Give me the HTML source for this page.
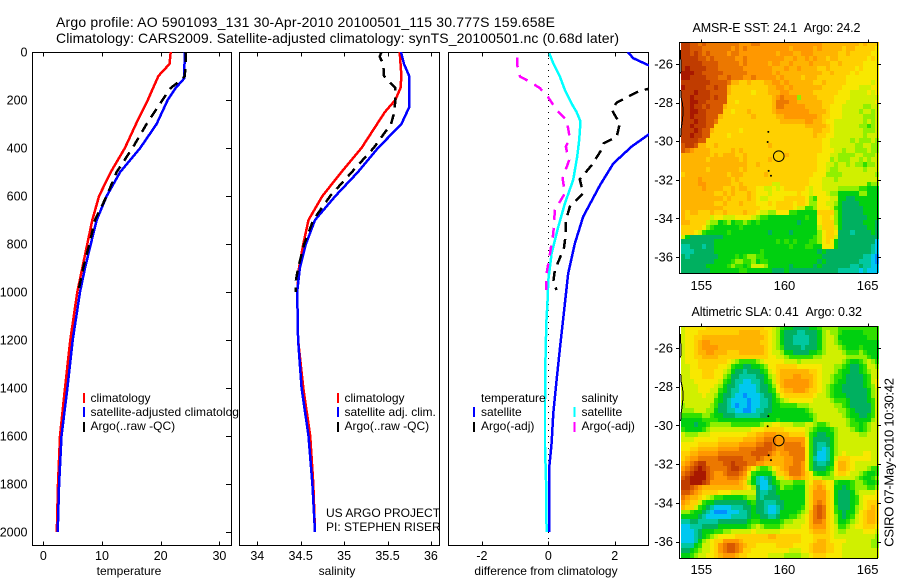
<!DOCTYPE html>
<html>
<head>
<meta charset="utf-8">
<title>Argo profile</title>
<style>
html,body{margin:0;padding:0;background:#fff;width:900px;height:580px;overflow:hidden}
svg{display:block}
text{font-family:"Liberation Sans",Arial,sans-serif;font-size:12px;fill:#000}
</style>
</head>
<body>
<svg id="chart" xmlns="http://www.w3.org/2000/svg" width="900" height="580" viewBox="0 0 900 580">
<defs>
<clipPath id="clip-temp"><rect x="32" y="52" width="200" height="494"/></clipPath>
<clipPath id="clip-sal"><rect x="239" y="52" width="201" height="494"/></clipPath>
<clipPath id="clip-diff"><rect x="448" y="52" width="201" height="494"/></clipPath>
</defs>
<text x="56" y="27" style="font-size:14px" textLength="499">Argo profile: AO 5901093_131 30-Apr-2010 20100501_115 30.777S 159.658E</text>
<text x="56" y="43" style="font-size:14px" textLength="563">Climatology: CARS2009. Satellite-adjusted climatology: synTS_20100501.nc (0.68d later)</text>
<g id="panels"></g>
<text x="692.5" y="32" style="font-size:12.5px" textLength="168">AMSR-E SST: 24.1&#160;&#160;Argo: 24.2</text>
<text x="691.5" y="316" style="font-size:12.5px" textLength="170.5">Altimetric SLA: 0.41&#160;&#160;Argo: 0.32</text>
<text transform="translate(893.5,546.7) rotate(-90)" style="font-size:13px" textLength="168.7">CSIRO 07-May-2010 10:30:42</text>
</svg>
<script>
const depthTicks = [0,200,400,600,800,1000,1200,1400,1600,1800,2000];
const tempTicks = [0,10,20,30];
const salTicks = [34,34.5,35,35.5,36];
const salTickLabels = ['34','34.5','35','35.5','36'];
const diffTicks = [-2,0,2];
const lonTicks = [155,160,165];
const latTicks = [-26,-28,-30,-32,-34,-36];

const tempClimDepth = [0,50,100,200,300,400,500,600,700,800,900,1000,1200,1400,1600,1800,2000];
const tempClim = [21.7,21.5,19.6,17.8,15.8,13.9,11.5,9.5,8.35,7.5,6.65,5.8,4.6,3.7,2.85,2.5,2.3];
const tempSatDepth = [0,100,110,150,200,300,400,500,600,700,800,900,1000,1200,1400,1600,1800,2000];
const tempSat = [24.1,24.0,24.0,22.55,21.2,19.3,16.5,13.1,10.8,9.1,8.1,7.1,6.25,5.0,4.1,3.1,2.7,2.45];
const tempArgoDepth = [0,20,100,120,150,200,300,400,500,600,700,800,900,1000];
const tempArgo = [24.2,24.3,24.1,23.3,21.7,20.3,17.6,15.2,12.5,10.8,8.8,7.85,6.8,5.95];

const salClimDepth = [0,100,150,200,250,300,400,500,600,700,800,900,1000,1200,1400,1600,1800,2000];
const salClim = [35.64,35.66,35.65,35.59,35.47,35.38,35.2,34.97,34.75,34.59,34.53,34.48,34.46,34.47,34.53,34.61,34.645,34.665];
const salSatDepth = [0,50,100,200,230,300,400,500,600,700,800,900,1000,1200,1400,1600,1800,2000];
const salSat = [35.655,35.69,35.75,35.75,35.75,35.66,35.39,35.16,34.9,34.665,34.56,34.49,34.46,34.47,34.51,34.59,34.635,34.665];
const salArgoDepth = [0,20,50,100,150,200,250,300,400,500,600,700,800,900,950,1000];
const salArgo = [35.43,35.41,35.45,35.46,35.59,35.59,35.58,35.54,35.34,35.09,34.84,34.645,34.54,34.47,34.446,34.44];

const diffTempSatDepth = [0,26,54,100,200,300,346,394,464,554,686,797,922,1047,1236,1367,1505,1630,1728,2000];
const diffTempSat = [2.39,2.56,3.0,4.4,3.6,3.5,3.0,2.51,1.96,1.56,1.05,0.8,0.6,0.5,0.35,0.25,0.15,0.1,0.03,0.03];
const diffTempArgoDepth = [100,154,161,186,211,239,272,294,353,381,408,471,531,589,644,700,756,818,908,957,992];
const diffTempArgo = [3.6,3.0,2.76,2.41,2.06,1.91,2.04,2.16,2.06,1.66,1.6,1.31,0.95,1.05,0.65,0.53,0.53,0.47,0.2,0.15,0.25];
const diffSalSatDepth = [6,47,103,158,214,249,290,367,436,533,631,728,839,950,1061,1103,1242,1450,1644,1783,2000];
const diffSalSat = [0.03,0.15,0.35,0.5,0.7,0.85,0.97,0.93,0.87,0.75,0.5,0.3,0.1,0,-0.03,-0.05,-0.08,-0.1,-0.1,-0.07,-0.05];
const diffSalArgoDepth = [22,58,103,124,151,189,242,283,360,394,422,450,526,589,658,756,839,922,992];
const diffSalArgo = [-0.93,-0.93,-0.85,-0.55,-0.25,0,0.25,0.55,0.65,0.53,0.57,0.63,0.43,0.5,0.2,0.15,0.05,-0.05,-0.07];

const coastSegmentALon = [153.76,153.76,153.78,153.76];
const coastSegmentALat = [-25.27,-25.7,-26.1,-26.48];
const coastSegmentBLon = [153.76,153.8,153.88,153.9,153.85,153.78,153.76];
const coastSegmentBLat = [-27.35,-27.8,-28.1,-28.6,-29.0,-29.4,-29.77];
const islandLon = [159.03,158.99,159.05,159.19];
const islandLat = [-29.52,-30.04,-31.54,-31.79];
const stationLon = [159.658];
const stationLat = [-30.777];

const sstGrid = [
[14,14,13,13,12,13,12,12,12,12,12,12,12,12,11,11,11,12,12,11,11,11,11,11,11,11,11,11,11,11,11,11,11,11,10,10,10,10,10,10,10,10,10,9,10,9,9,9],
[14,14,13,13,13,12,12,12,12,12,12,12,11,12,11,12,11,11,11,11,11,11,11,11,11,11,10,11,11,11,11,11,10,11,10,10,10,10,10,9,10,10,9,9,9,9,9,8],
[14,14,13,14,13,12,13,12,12,12,12,11,12,12,11,11,11,11,11,11,11,11,11,10,11,11,11,10,10,11,11,11,10,10,10,10,10,10,9,9,10,9,9,9,9,9,8,8],
[14,14,14,14,13,13,12,13,12,12,12,12,12,11,11,12,11,11,11,11,11,11,11,11,11,10,10,11,10,10,11,10,11,10,10,9,10,10,9,9,9,9,9,9,9,8,9,8],
[14,14,14,14,14,13,13,13,13,12,12,12,12,12,11,12,11,11,11,11,11,10,11,11,10,10,11,10,10,10,10,11,10,10,10,10,9,9,10,9,9,9,9,9,8,8,8,8],
[14,15,14,14,14,14,13,13,13,12,12,12,12,12,12,11,11,11,11,11,11,11,10,10,10,11,10,10,11,10,10,10,10,9,9,10,9,9,9,9,9,9,8,9,8,8,8,8],
[15,15,15,14,14,13,13,13,13,13,12,12,12,12,12,12,11,11,11,11,11,11,10,11,10,10,10,10,10,10,10,10,10,10,9,9,10,9,9,9,9,8,9,8,8,8,8,8],
[15,15,14,14,14,14,13,13,13,12,12,13,12,12,12,11,11,12,11,11,11,11,11,10,11,10,10,10,10,9,10,10,10,9,9,9,9,9,9,9,8,8,8,8,8,8,8,8],
[14,14,14,14,14,14,14,13,13,13,13,12,10,10,9,9,10,9,9,9,10,10,11,11,10,11,10,10,10,10,10,10,9,9,10,9,9,9,9,9,8,8,8,8,8,8,7,8],
[15,14,14,14,14,14,13,13,14,13,13,10,9,9,9,9,9,9,9,9,9,10,10,11,11,10,11,10,10,10,10,10,10,10,9,9,9,9,9,8,8,8,8,7,7,7,8,8],
[14,14,14,15,14,14,14,13,13,13,13,10,9,9,9,9,9,8,9,9,9,10,10,10,11,11,10,10,10,10,10,10,9,9,9,9,9,9,8,8,8,7,7,7,7,8,7,8],
[14,14,15,14,14,14,14,13,14,13,13,9,9,9,9,9,9,9,9,9,9,9,10,11,12,11,11,11,6,10,10,10,10,9,9,9,9,8,8,8,8,7,7,7,7,7,7,7],
[14,14,15,15,14,14,13,13,13,13,13,9,9,8,9,9,9,9,9,9,9,9,10,12,12,12,11,11,10,10,10,10,10,10,9,9,9,8,8,8,7,7,7,7,7,7,7,8],
[14,14,15,14,14,13,14,13,13,13,10,9,9,9,9,9,9,9,9,9,9,9,10,12,12,11,11,11,11,11,10,10,10,10,9,9,8,8,8,7,7,7,7,7,6,6,7,7],
[14,14,15,15,14,14,13,13,13,13,9,9,8,9,9,9,10,9,9,9,9,9,10,11,11,11,11,11,11,11,11,10,10,10,10,9,8,8,8,7,7,7,7,6,7,7,6,7],
[14,14,15,14,14,14,13,13,13,10,9,9,9,9,9,9,9,10,9,9,9,9,9,10,10,11,11,11,11,11,11,11,11,10,9,9,8,8,8,7,7,7,7,7,6,6,6,7],
[14,14,14,15,14,14,13,13,12,9,9,9,9,9,9,9,9,9,9,9,9,9,9,9,10,10,10,10,10,10,11,11,10,10,9,8,8,7,7,7,7,7,7,7,6,7,6,7],
[14,14,15,14,14,14,13,13,9,9,9,9,9,9,9,9,9,9,9,9,9,9,9,9,9,9,9,9,9,9,10,10,10,10,10,9,8,7,7,7,7,7,7,6,6,5,6,7],
[14,14,14,15,14,13,13,10,9,9,9,9,9,9,8,9,9,9,9,9,9,9,9,9,9,9,9,9,9,9,9,9,10,10,9,9,8,7,7,7,7,7,7,7,6,6,6,7],
[14,14,15,14,14,13,13,9,9,9,9,8,9,9,9,9,9,9,9,9,9,9,9,9,9,9,9,9,9,9,9,9,10,9,9,8,8,7,7,7,7,7,7,7,6,7,7,7],
[14,14,14,14,13,13,9,9,9,9,9,9,9,9,9,9,9,9,9,9,9,9,9,9,9,9,9,9,9,9,9,9,9,9,8,8,7,7,7,7,7,6,7,6,6,6,7,6],
[13,14,14,13,10,10,9,9,10,9,9,9,9,9,9,9,9,9,9,9,9,10,9,9,9,9,9,9,9,9,9,9,9,9,8,8,7,7,7,7,7,7,6,6,7,7,6,6],
[13,12,11,10,10,10,10,9,9,9,9,9,10,9,10,9,9,9,9,9,9,9,9,9,9,9,9,9,9,9,9,9,9,9,8,8,8,7,7,6,7,7,6,6,6,7,6,6],
[10,10,10,10,10,10,10,9,10,9,10,10,10,9,9,10,9,9,9,9,9,9,9,9,9,10,9,9,9,9,9,9,9,8,8,8,7,7,6,6,6,6,7,7,6,6,6,7],
[10,10,10,10,10,10,9,10,10,10,10,10,10,10,9,10,9,9,9,9,9,10,9,9,9,9,9,9,9,9,9,9,9,8,8,8,6,7,6,6,6,7,7,6,7,6,7,7],
[10,10,10,10,10,10,10,10,10,10,10,10,10,10,10,10,9,9,10,9,9,9,9,9,9,9,9,9,9,9,9,9,9,8,8,7,7,6,7,7,6,7,6,6,5,6,6,7],
[10,10,10,10,10,10,9,10,10,10,10,10,10,10,9,10,9,9,9,9,9,9,9,9,9,9,9,9,9,9,9,9,9,8,8,7,6,6,7,7,7,7,7,7,6,7,7,7],
[9,10,10,10,10,10,10,10,10,10,10,9,10,10,10,9,9,9,9,9,10,9,9,9,9,9,9,9,9,9,9,9,8,8,8,6,6,6,6,7,7,7,7,7,7,7,7,6],
[10,10,10,10,11,10,10,10,10,10,10,10,9,10,9,9,9,9,9,9,9,9,9,9,9,9,9,9,9,9,9,8,8,8,7,7,7,6,7,7,7,7,7,7,7,7,7,7],
[10,10,10,10,11,11,10,10,10,10,10,10,9,9,10,9,9,9,9,9,9,9,7,7,9,9,9,9,9,9,9,8,8,8,7,7,7,7,7,7,7,7,7,7,7,5,6,6],
[10,10,10,10,10,11,10,10,10,10,9,9,10,9,10,10,9,9,8,8,7,7,8,7,8,9,9,9,9,9,8,7,8,8,7,7,7,7,6,6,6,6,6,5,5,4,4,4],
[10,10,10,10,10,10,10,10,9,9,10,9,10,9,9,9,10,9,8,8,8,7,8,8,8,8,8,8,9,8,8,7,8,8,8,7,6,6,4,4,4,4,4,6,6,4,4,4],
[10,10,10,10,10,10,10,10,10,10,9,10,9,9,9,9,10,9,8,7,7,8,8,8,8,9,9,9,9,9,8,6,5,8,8,8,7,7,4,4,3,3,4,4,4,4,4,4],
[10,10,10,10,10,10,10,10,9,9,10,9,9,9,10,9,9,9,8,8,8,9,8,9,9,9,9,8,9,9,8,6,6,8,8,7,7,6,4,3,3,3,3,4,4,4,4,4],
[10,10,10,10,10,10,10,10,10,10,9,9,9,9,9,9,9,9,9,8,8,8,8,9,9,9,9,8,7,7,5,5,6,8,8,8,7,5,4,3,3,3,3,3,4,4,4,4],
[10,9,10,10,9,9,9,10,9,9,10,9,9,9,9,10,9,9,8,7,7,6,6,8,8,8,5,5,4,4,4,4,4,9,9,9,9,6,4,3,3,3,3,3,4,4,4,4],
[10,9,9,9,9,9,9,7,8,8,7,7,7,8,8,8,8,7,6,5,5,4,4,4,4,4,4,4,4,4,5,4,4,8,9,9,8,6,4,3,3,3,3,3,3,4,4,4],
[10,10,9,9,9,9,7,6,6,4,5,6,4,5,5,6,5,4,5,4,4,4,4,4,4,4,4,4,3,4,4,4,4,8,9,9,9,6,4,3,3,3,3,3,4,4,4,3],
[9,9,9,9,9,8,6,5,4,4,4,4,4,4,5,4,4,4,4,4,4,4,4,4,4,4,4,4,4,4,4,4,4,7,9,9,9,7,4,3,3,3,3,3,3,4,4,3],
[9,9,9,8,7,5,4,4,4,4,4,5,4,4,4,4,4,4,4,4,4,3,4,4,4,4,3,4,4,4,4,4,4,6,8,9,9,8,3,3,3,2,3,3,3,3,4,3],
[7,4,3,3,3,3,3,3,3,3,4,4,4,4,4,4,4,4,4,4,4,4,4,4,4,4,4,4,4,4,4,4,5,6,8,9,9,7,3,3,3,3,3,3,3,3,3,3],
[3,3,3,3,3,3,3,3,4,4,4,4,4,4,4,4,4,4,4,4,4,4,4,5,4,5,4,5,4,4,4,5,5,6,8,9,8,4,3,3,3,3,3,3,3,3,3,1],
[2,2,3,3,3,2,3,3,4,4,4,4,4,4,4,4,4,4,4,4,4,4,4,4,4,4,5,4,4,4,5,5,4,4,8,8,8,4,3,3,3,3,3,3,3,3,2,1],
[2,2,2,3,3,3,3,3,4,4,4,4,4,4,4,4,4,4,4,5,4,4,4,4,4,4,4,4,4,4,4,4,4,3,4,3,3,3,3,3,3,3,3,3,3,3,2,1],
[3,2,3,3,3,3,3,3,3,4,4,4,4,5,4,5,6,6,5,5,4,4,4,4,4,4,4,4,4,4,4,4,4,4,3,3,3,3,3,3,3,3,3,3,2,2,1,0],
[3,3,3,3,3,3,3,3,4,4,4,4,5,6,6,5,5,6,4,5,5,4,4,4,4,4,4,4,4,4,4,4,4,3,4,3,3,3,3,3,3,3,3,2,2,2,1,0],
[3,3,3,3,3,3,4,4,4,4,4,5,6,5,5,4,5,7,7,7,6,4,4,4,4,4,3,4,4,4,4,4,3,4,3,3,3,3,3,3,3,2,2,3,2,2,1,1],
[3,3,3,3,3,3,3,4,4,4,4,4,4,4,5,5,4,4,4,4,4,4,3,3,3,4,3,3,3,3,3,3,3,3,3,3,3,3,2,2,2,2,2,1,2,1,1,1]
];

const slaGrid = [
[7,8,8,8,8,8,9,9,9,9,9,9,9,9,9,9,9,9,9,9,8,8,7,6,5,4,4,3,3,3,3,4,4,5,6,6,6,6,5,5,5,5,5,5,5,5,5,5],
[7,8,8,8,9,9,9,9,9,9,9,9,9,9,10,10,10,10,10,9,9,8,7,6,4,3,3,3,2,2,3,3,3,4,6,7,6,6,5,4,4,4,4,4,5,5,5,5],
[7,8,8,9,9,10,10,10,10,10,10,10,10,10,10,10,10,10,10,10,9,8,7,6,4,3,3,2,2,2,2,3,3,4,6,7,7,6,4,4,4,4,4,4,4,5,5,5],
[7,8,8,9,10,11,11,10,10,10,10,10,10,10,10,10,10,10,10,9,9,8,7,6,4,3,3,2,2,2,2,3,3,4,6,7,7,6,5,4,4,4,4,4,4,4,4,4],
[7,8,8,9,10,11,11,11,11,10,10,10,10,10,10,10,10,10,10,10,9,8,7,6,5,3,3,3,3,2,3,3,3,4,6,7,7,7,6,5,4,4,4,5,4,4,4,4],
[7,8,8,9,10,10,11,11,10,10,10,9,9,9,10,10,10,10,10,10,9,8,7,7,6,4,4,3,3,3,3,4,4,5,6,7,7,7,7,6,5,5,5,6,5,4,4,4],
[7,8,8,9,9,10,10,10,10,9,9,9,9,9,9,9,9,9,9,9,9,8,8,7,7,6,5,5,5,5,5,5,6,6,7,7,7,7,7,7,6,6,6,6,6,5,4,4],
[7,8,8,8,9,9,9,9,9,9,9,8,7,6,5,5,5,5,6,7,8,8,8,8,8,7,7,7,6,7,7,7,7,7,7,7,7,7,7,6,5,4,4,5,6,7,6,5],
[7,7,8,8,9,9,9,9,9,8,8,7,5,4,4,3,3,4,4,5,6,8,8,9,9,9,9,9,8,8,8,8,8,8,7,7,7,6,6,5,4,3,3,4,5,7,7,6],
[7,7,8,8,8,9,9,9,8,8,7,6,4,3,3,2,3,3,3,4,5,7,8,9,10,10,10,10,10,10,10,9,9,8,7,7,7,6,5,4,4,3,3,4,5,6,7,7],
[7,7,8,8,8,9,9,9,8,8,6,5,3,3,2,2,2,2,3,3,4,6,7,9,10,10,10,11,11,10,10,10,9,8,7,7,6,5,5,4,3,3,3,3,4,5,7,7],
[7,7,7,8,8,8,8,8,8,7,5,4,3,2,2,1,1,2,2,3,4,5,7,9,10,11,11,11,11,11,11,10,9,8,7,7,6,5,4,4,3,3,3,3,4,5,7,8],
[7,7,7,7,8,8,8,8,7,6,4,3,3,2,1,1,1,1,2,3,3,4,6,8,10,11,11,11,11,11,11,10,9,8,7,6,5,4,4,3,3,3,3,3,4,5,6,8],
[7,7,7,7,8,8,8,7,7,5,4,3,2,2,1,1,1,1,2,3,3,4,5,8,9,10,10,11,11,11,10,9,9,8,7,6,5,4,4,3,3,3,3,3,3,4,6,7],
[7,7,7,7,7,8,7,7,6,4,3,3,2,1,1,0,1,1,1,2,3,3,4,6,8,9,9,9,9,9,9,9,8,7,7,6,5,4,4,4,3,3,3,3,3,4,6,7],
[7,7,7,7,7,7,7,7,5,4,3,2,1,1,1,1,0,1,1,2,2,3,4,5,6,7,8,8,8,8,8,8,7,7,7,7,6,5,5,5,4,3,3,3,3,4,5,7],
[6,7,7,7,7,7,7,6,5,3,3,2,1,0,1,1,0,1,1,2,2,3,4,4,5,5,5,5,6,6,6,7,7,7,7,7,7,6,6,5,4,3,3,3,3,3,5,7],
[6,6,6,7,7,7,6,6,4,3,3,2,2,1,1,0,0,1,2,2,3,3,4,4,4,4,4,4,4,4,5,6,7,7,7,7,7,7,6,6,5,4,3,3,3,3,5,7],
[5,5,5,5,5,6,6,5,4,4,3,3,3,2,2,2,2,2,2,3,3,4,4,4,4,4,4,4,4,4,4,5,6,7,7,7,7,7,7,6,5,4,4,3,3,4,5,7],
[4,4,4,4,4,5,5,5,5,4,4,4,4,4,4,4,4,4,4,4,4,4,4,5,4,4,4,4,4,4,4,4,6,7,7,7,7,7,7,7,6,5,4,4,4,4,6,7],
[4,4,4,3,4,4,5,6,6,6,6,6,5,5,5,5,5,5,5,6,7,7,8,8,7,7,7,6,6,6,7,7,6,5,5,6,7,7,7,7,6,5,5,4,5,6,7,7],
[5,4,4,4,4,5,6,7,7,7,7,7,7,7,7,7,7,8,8,8,9,9,9,9,9,8,8,8,8,8,7,6,5,4,4,4,5,6,7,7,7,6,5,4,5,6,7,7],
[7,6,6,6,7,7,7,8,8,8,8,8,8,8,8,8,9,9,10,10,11,11,11,10,10,10,9,9,9,9,7,5,4,3,3,4,4,6,7,7,7,7,7,6,6,7,7,7],
[7,7,7,8,8,8,8,8,8,9,9,9,9,9,9,10,10,10,11,11,12,12,12,11,11,11,11,11,11,11,8,5,3,3,3,3,4,6,7,7,7,7,7,7,7,7,7,7],
[8,8,8,8,9,9,9,9,9,10,10,10,10,10,11,11,11,11,12,12,13,13,12,11,11,12,12,12,12,11,8,5,3,2,2,3,4,6,7,7,7,7,7,7,7,7,7,7],
[8,8,9,9,10,10,10,10,10,11,11,11,11,11,12,12,12,12,13,13,13,13,12,11,11,12,12,12,12,12,8,5,3,2,1,2,4,6,7,7,7,7,7,7,7,7,7,7],
[9,9,10,10,11,11,11,11,11,12,12,12,12,12,12,12,12,13,13,13,13,12,11,10,11,11,12,12,12,12,8,5,3,1,1,2,4,6,7,8,7,7,7,7,8,8,7,7],
[9,10,11,11,12,12,12,12,12,13,13,13,13,13,13,12,12,12,13,12,11,11,10,10,10,11,11,12,12,12,8,5,2,1,1,2,4,7,9,9,9,8,8,8,8,8,7,7],
[10,11,12,13,14,14,12,12,12,12,13,13,14,13,13,13,12,12,11,11,10,10,10,10,10,11,11,12,12,11,8,5,3,2,2,3,4,8,10,10,9,8,7,7,7,7,7,7],
[11,12,13,14,15,14,13,12,12,12,12,13,14,14,13,12,10,8,6,5,5,6,8,9,10,11,12,12,12,11,8,5,3,3,3,4,5,8,10,10,9,8,7,7,7,6,5,5],
[12,13,14,15,15,15,13,12,11,11,12,13,13,13,12,11,8,5,4,4,4,4,6,9,9,10,12,12,12,11,9,8,5,4,4,5,6,8,9,9,8,7,7,6,5,4,4,5],
[13,14,15,15,15,15,13,12,11,11,11,12,12,12,11,10,7,4,2,1,2,3,4,7,7,9,10,11,11,10,9,8,7,7,6,6,6,7,7,7,7,7,6,5,4,4,5,6],
[14,14,15,15,15,14,13,11,11,11,11,11,11,11,10,9,6,4,2,1,1,3,4,5,6,6,6,5,5,5,7,8,10,10,9,8,8,5,4,4,4,5,6,6,5,4,4,5],
[14,14,13,12,11,10,10,10,10,10,10,10,10,10,10,9,8,6,3,1,1,2,3,4,6,5,5,4,4,4,7,9,10,11,10,8,8,4,4,3,4,5,6,6,6,5,5,6],
[13,13,12,11,10,9,9,9,9,8,8,8,7,7,7,7,7,7,3,2,2,3,3,4,4,4,4,4,4,4,7,9,11,11,11,9,8,4,3,3,3,4,6,7,7,7,7,8],
[12,11,10,10,9,8,7,6,5,5,4,4,4,4,4,5,6,6,3,2,3,3,3,3,4,4,4,4,4,4,7,9,11,11,11,9,8,4,3,3,3,4,5,7,8,8,8,8],
[11,10,9,9,7,5,4,4,3,3,3,3,3,3,3,3,4,5,3,3,2,2,2,3,3,4,4,4,4,4,7,9,11,12,11,9,8,4,3,3,3,4,5,7,8,9,9,9],
[10,9,9,7,5,4,3,2,1,1,1,1,2,2,2,3,3,4,3,3,2,1,1,2,3,4,4,4,4,5,7,9,12,13,12,9,8,5,3,3,3,4,6,7,8,9,10,9],
[6,6,5,4,4,3,2,1,0,0,0,1,1,1,2,2,3,4,3,3,2,1,1,2,4,4,4,4,5,6,7,10,12,13,12,9,8,5,4,3,4,4,6,8,9,10,10,9],
[4,4,4,4,3,2,1,1,1,1,1,1,2,2,2,2,3,4,4,3,3,2,2,3,4,4,5,5,6,7,8,10,12,13,12,9,8,6,4,3,4,5,7,8,9,10,10,9],
[2,2,3,3,2,2,2,2,2,3,3,3,3,3,3,3,4,5,5,4,4,4,4,4,5,6,6,7,7,7,8,10,12,12,11,9,8,6,4,4,5,6,7,8,9,10,10,9],
[1,1,2,2,2,3,3,3,3,4,4,4,4,4,4,4,5,6,7,6,5,5,5,5,6,7,7,7,7,8,8,10,11,11,11,9,8,7,5,5,6,7,8,8,9,9,9,8],
[1,1,1,2,3,4,4,4,5,5,6,6,7,7,7,7,7,8,7,7,7,7,7,7,8,8,8,8,8,8,8,9,10,10,10,9,8,7,6,6,7,7,7,7,8,8,8,7],
[1,1,1,2,3,4,5,6,7,8,8,8,8,9,9,9,9,9,9,9,9,10,10,9,9,9,9,9,9,8,8,8,9,9,9,9,8,7,7,7,7,7,7,7,7,7,7,6],
[1,1,1,2,4,6,7,8,9,9,11,11,11,11,10,9,9,9,9,9,9,9,9,9,9,9,9,9,9,8,8,8,9,10,10,9,8,8,8,8,7,7,7,7,7,7,6,6],
[2,2,2,4,5,7,7,8,9,11,12,13,13,12,11,10,9,9,8,8,8,8,8,9,9,9,9,8,8,8,8,9,10,10,10,9,9,8,8,7,7,7,7,7,7,7,6,6],
[3,3,4,5,6,7,7,8,9,11,12,13,13,12,11,9,9,8,8,8,8,8,8,8,8,8,7,7,7,8,8,9,10,10,10,9,9,8,8,7,7,7,7,7,7,7,7,7],
[4,4,5,6,7,7,8,8,9,10,11,11,11,10,9,9,8,8,8,8,8,7,7,7,7,6,6,6,6,7,7,8,9,9,9,8,8,8,8,7,7,7,7,7,7,7,7,7]
];

const colorScale = ['#0090ff','#00c8f0','#00c8a0','#00b060','#00d010','#30e000','#90f000','#d0f000','#f8e800','#ffd000','#ffb400','#ff9800','#ec7800','#d85800','#c03c00','#a81800'];

const NS = 'http://www.w3.org/2000/svg';
const root = document.getElementById('panels');
const D = 0.24, Y0 = 52;
const yDepth = d => Y0 + d * D;
const xTemp = v => 43.3 + v * 5.87;
const xSal = v => 257.3 + (v - 34) * 86.8;
const xDiff = v => 548.3 + v * 33.2;
const xLon = v => 701.3 + (v - 155) * 16.63;
const ySst = v => 64 + (-26 - v) * 19.3;
const ySla = v => 348 + (-26 - v) * 19.37;

function mk(tag, attrs, parent) {
  const e = document.createElementNS(NS, tag);
  for (const k in attrs) e.setAttribute(k, attrs[k]);
  parent.appendChild(e);
  return e;
}
function group(name) {
  const g = mk('g', {}, root);
  
  
  return g;
}
function line(parent, x1, y1, x2, y2, name) {
  const l = mk('line', {x1:x1, y1:y1, x2:x2, y2:y2, stroke:'#000', 'stroke-width':1, 'shape-rendering':'crispEdges'}, parent);
  
  
  return l;
}
function label(parent, x, y, txt, anchor, name) {
  const t = mk('text', {x:x, y:y, 'text-anchor':anchor}, parent);
  t.textContent = txt;
  
  
  return t;
}
function frame(parent, x, y, w, h, fill, name) {
  const r = mk('rect', {x:x, y:y, width:w, height:h, fill:fill, stroke:'#000', 'stroke-width':1, 'shape-rendering':'crispEdges'}, parent);
  
  
  return r;
}
function series(parent, vals, depths, xf, color, width, dash, clip, name) {
  const pts = vals.map((v, i) => xf(v).toFixed(1) + ',' + yDepth(depths[i]).toFixed(1)).join(' ');
  const attrs = {points:pts, fill:'none', stroke:color, 'stroke-width':width, 'clip-path':'url(#' + clip + ')', 'shape-rendering':'crispEdges'};
  if (dash) attrs['stroke-dasharray'] = dash;
  const p = mk('polyline', attrs, parent);
  
  
  return p;
}
function legendEntry(parent, bx, tx, by, ty, color, txt, name) {
  const b = mk('rect', {x:bx, y:by, width:2, height:10, fill:color, 'shape-rendering':'crispEdges'}, parent);
  
  
  return label(parent, tx, ty, txt, 'start', name + '-label');
}
function profileAxes(g, left, right, ticks, tickLabels, xf, xlabel, xlabelX, name) {
  frame(g, left + 0.5, 52.5, right - left, 493, '#fff', name + '-frame');
  ticks.forEach((v, i) => {
    const x = Math.round(xf(v)) + 0.5;
    line(g, x, 52.5, x, 56.5, name + '-top-tick');
    line(g, x, 541.5, x, 545.5, name + '-bottom-tick');
    label(g, xf(v), 560, tickLabels[i], 'middle', name + '-x-tick-label').style.fontSize = '12.5px';
  });
  label(g, xlabelX, 575, xlabel, 'middle', name + '-x-axis-title');
}

/* temperature panel */
const gT = group('temperature-panel');
profileAxes(gT, 32, 231, tempTicks, tempTicks.map(String), xTemp, 'temperature', 129, 'temperature');
depthTicks.forEach(d => {
  const y = Math.round(yDepth(d)) + 0.5;
  line(gT, 226, y, 231, y, 'depth-tick');
  label(gT, 27.5, yDepth(d) + 4.5, String(d), 'end', 'depth-tick-label').style.fontSize = '12.5px';
});
series(gT, tempClim, tempClimDepth, xTemp, '#ff0000', 2.5, null, 'clip-temp', 'temperature-climatology-line');
series(gT, tempSat, tempSatDepth, xTemp, '#0000ff', 2.5, null, 'clip-temp', 'temperature-satellite-line');
series(gT, tempArgo, tempArgoDepth, xTemp, '#000000', 2.5, '10 7', 'clip-temp', 'temperature-argo-line');
legendEntry(gT, 83, 90.5, 393, 402, '#ff0000', 'climatology', 'legend-temp-climatology');
legendEntry(gT, 83, 90.5, 407, 416, '#0000ff', 'satellite-adjusted climatology', 'legend-temp-satellite').setAttribute('textLength', '154.5');
legendEntry(gT, 83, 90.5, 422, 430, '#000000', 'Argo(..raw -QC)', 'legend-temp-argo');

/* salinity panel */
const gS = group('salinity-panel');
profileAxes(gS, 239, 439, salTicks, salTickLabels, xSal, 'salinity', 337, 'salinity');
series(gS, salClim, salClimDepth, xSal, '#ff0000', 2.5, null, 'clip-sal', 'salinity-climatology-line');
series(gS, salSat, salSatDepth, xSal, '#0000ff', 2.5, null, 'clip-sal', 'salinity-satellite-line');
series(gS, salArgo, salArgoDepth, xSal, '#000000', 2.5, '10 7', 'clip-sal', 'salinity-argo-line');
legendEntry(gS, 337, 344.5, 393, 402, '#ff0000', 'climatology', 'legend-sal-climatology');
legendEntry(gS, 337, 344.5, 407, 416, '#0000ff', 'satellite adj. clim.', 'legend-sal-satellite');
legendEntry(gS, 337, 344.5, 422, 430, '#000000', 'Argo(..raw -QC)', 'legend-sal-argo');
label(gS, 326, 517, 'US ARGO PROJECT', 'start', 'project-label');
label(gS, 326, 531, 'PI: STEPHEN RISER', 'start', 'pi-label');

/* difference panel */
const gD = group('difference-panel');
profileAxes(gD, 448, 648, diffTicks, diffTicks.map(String), xDiff, 'difference from climatology', 546, 'difference');
const zero = mk('line', {x1:Math.round(xDiff(0)) + 0.5, y1:52, x2:Math.round(xDiff(0)) + 0.5, y2:yDepth(2040), stroke:'#000', 'stroke-width':1, 'stroke-dasharray':'1 5', 'shape-rendering':'crispEdges'}, gD);


series(gD, diffTempSat, diffTempSatDepth, xDiff, '#0000ff', 2.5, null, 'clip-diff', 'diff-temperature-satellite-line');
series(gD, diffTempArgo, diffTempArgoDepth, xDiff, '#000000', 2.5, '10 7', 'clip-diff', 'diff-temperature-argo-line');
series(gD, diffSalSat, diffSalSatDepth, xDiff, '#00ffff', 2.5, null, 'clip-diff', 'diff-salinity-satellite-line');
series(gD, diffSalArgo, diffSalArgoDepth, xDiff, '#ff00ff', 2.5, '10 8', 'clip-diff', 'diff-salinity-argo-line');
label(gD, 481, 402, 'temperature', 'start', 'legend-diff-temperature-heading');
legendEntry(gD, 473, 481, 407, 416, '#0000ff', 'satellite', 'legend-diff-temp-satellite');
legendEntry(gD, 473, 481, 422, 430, '#000000', 'Argo(-adj)', 'legend-diff-temp-argo');
label(gD, 581.5, 402, 'salinity', 'start', 'legend-diff-salinity-heading');
legendEntry(gD, 573.5, 581.5, 407, 416, '#00ffff', 'satellite', 'legend-diff-sal-satellite');
legendEntry(gD, 573.5, 581.5, 422, 430, '#ff00ff', 'Argo(-adj)', 'legend-diff-sal-argo');

/* maps */
function mapPanel(name, grid, yLat, xLabelY) {
  const g = group(name);
  const lon0 = 153.8, dLon = 11.9 / 48, lat0 = -24.84, dLat = 0.25;
  grid.forEach((row, r) => {
    const y1 = Math.round(yLat(lat0 - r * dLat)), y2 = Math.round(yLat(lat0 - (r + 1) * dLat));
    row.forEach((v, c) => {
      const x1 = Math.round(xLon(lon0 + c * dLon)), x2 = Math.round(xLon(lon0 + (c + 1) * dLon));
      const cell = mk('rect', {x:x1, y:y1, width:x2 - x1, height:y2 - y1, fill:colorScale[Math.max(0, Math.min(colorScale.length - 1, Math.round(v)))], 'shape-rendering':'crispEdges'}, g);
      
      
    });
  });
  const top = Math.round(yLat(lat0)) + 0.5, bottom = Math.round(yLat(lat0 - 48 * dLat)) + 0.5;
  frame(g, 679.5, top, 198, bottom - top, 'none', name + '-frame');
  lonTicks.forEach(v => {
    const x = Math.round(xLon(v)) + 0.5;
    line(g, x, top - 3, x, top, name + '-lon-tick');
    label(g, xLon(v), xLabelY, String(v), 'middle', name + '-lon-tick-label').style.fontSize = '13px';
  });
  latTicks.forEach(v => {
    const y = Math.round(yLat(v)) + 0.5;
    line(g, 676, y, 679.5, y, name + '-lat-tick');
    line(g, 877.5, y, 881, y, name + '-lat-tick-right');
    label(g, 673, yLat(v) + 4.5, String(v), 'end', name + '-lat-tick-label').style.fontSize = '13px';
  });
  [[coastSegmentALon, coastSegmentALat], [coastSegmentBLon, coastSegmentBLat]].forEach(seg => {
    const pts = seg[0].map((v, i) => xLon(v).toFixed(1) + ',' + yLat(seg[1][i]).toFixed(1)).join(' ');
    const coast = mk('polyline', {points:pts, fill:'none', stroke:'#000', 'stroke-width':1, 'shape-rendering':'crispEdges'}, g);
    
    
  });
  islandLon.forEach((v, i) => {
    const dot = mk('circle', {cx:xLon(v), cy:yLat(islandLat[i]), r:1, fill:'#000'}, g);
    
    
  });
  stationLon.forEach((v, i) => {
    const st = mk('circle', {cx:xLon(v), cy:yLat(stationLat[i]), r:5.3, fill:'none', stroke:'#000', 'stroke-width':1}, g);
    
    
  });
}
mapPanel('sst-map', sstGrid, ySst, 290);
mapPanel('sla-map', slaGrid, ySla, 574);
</script>
</body>
</html>
